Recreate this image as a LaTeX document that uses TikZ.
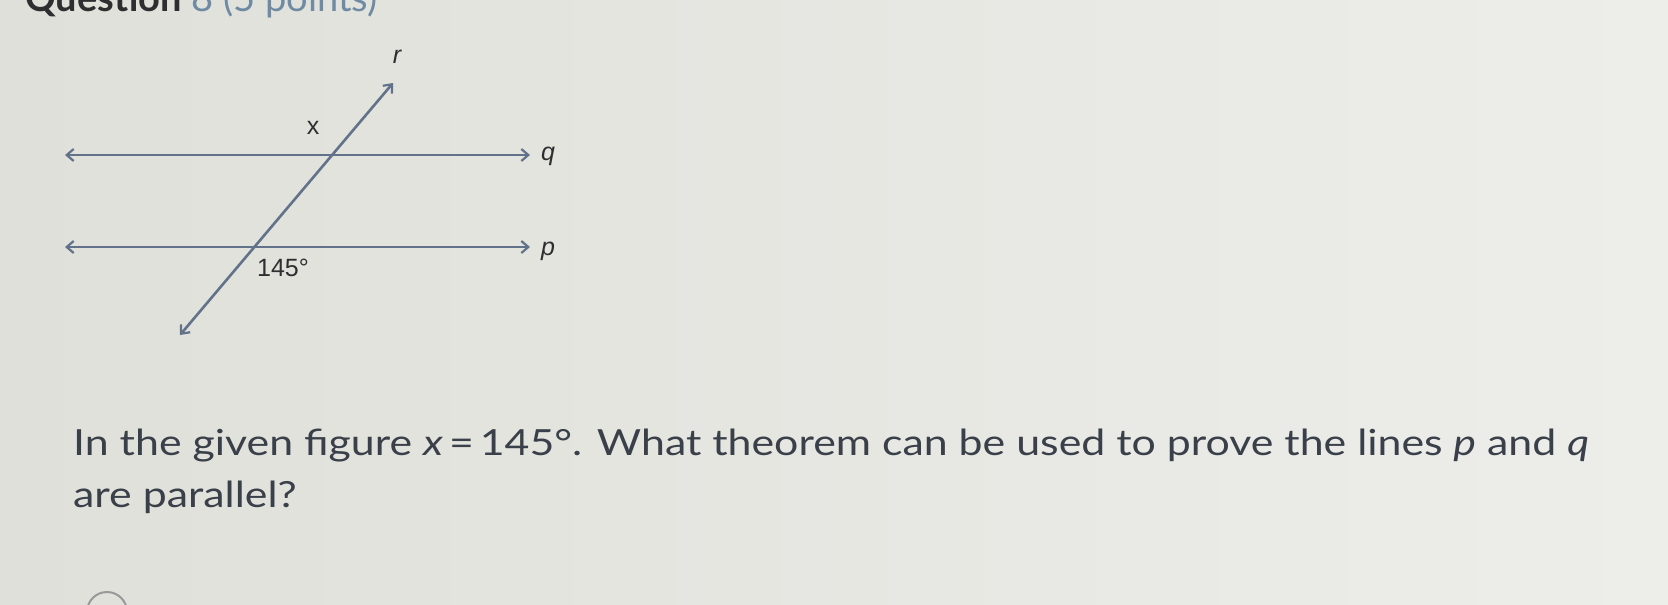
\documentclass[tikz,border=0pt]{standalone}
\usepackage{fontspec}
\setmainfont{Lato}
\newfontfamily\bodyfont[FakeStretch=1.19]{Lato}
\newfontfamily\figfont{Liberation Sans}
\usetikzlibrary{arrows.meta}
\definecolor{bgL}{HTML}{E0E0DA}
\definecolor{bgM}{HTML}{EEEEE2}
\definecolor{bgR}{HTML}{EDEDEA}
\definecolor{linec}{HTML}{62728A}
\definecolor{labc}{HTML}{2E2E30}
\definecolor{txtc}{HTML}{3A4049}
\definecolor{titleb}{HTML}{6F8AA3}
\tikzset{
  geoline/.style={draw=linec, line width=2.6pt, {Straight Barb[length=7pt,width=12pt,line width=2.2pt]}-{Straight Barb[length=7pt,width=12pt,line width=2.2pt]}},
  lab/.style={inner sep=0pt, text=labc, font=\figfont\fontsize{25}{28}\selectfont},
  body/.style={inner sep=0pt, anchor=base west, text=txtc, font=\bodyfont\fontsize{36}{40}\selectfont}
}
\begin{document}
\begin{tikzpicture}[x=1pt,y=-1pt]
\useasboundingbox (0,0) rectangle (1668,605);
\clip (0,0) rectangle (1668,605);
\shade[left color=bgL, middle color=bgM, right color=bgR] (0,0) rectangle (1668,605);
% title (cut off)
\node[inner sep=0pt, anchor=base west, text=labc, font=\fontsize{38}{42}\selectfont] (title) at (25,11) {\textbf{Question} \textcolor{titleb}{8 (5 points)}};
% figure
\coordinate (qL) at (65,155); \coordinate (qR) at (530,155);
\coordinate (pL) at (65,247); \coordinate (pR) at (530,247);
\coordinate (rB) at (180,335); \coordinate (rT) at (393,83);
\draw[geoline] (qL) -- (qR);
\draw[geoline] (pL) -- (pR);
\draw[geoline] (rB) -- (rT);
\node[lab] (lr) at (397,57) {\itshape r};
\node[lab] (lx) at (313,128) {x};
\node[lab] (lq) at (548,156) {\itshape q};
\node[lab] (lp) at (548,251) {\itshape p};
\node[lab] (la) at (283,268) {145°};
% question
\node[body] (l1) at (73,455) {In the given figure {\itshape x}\,=\,145°. What theorem can be used to prove the lines {\itshape p} and {\itshape q}};
\node[body] (l2) at (73,507) {are parallel?};
% radio button (cut off)
\draw[draw=gray!80, line width=2pt] (107,612) circle (20);
\end{tikzpicture}
\end{document}
